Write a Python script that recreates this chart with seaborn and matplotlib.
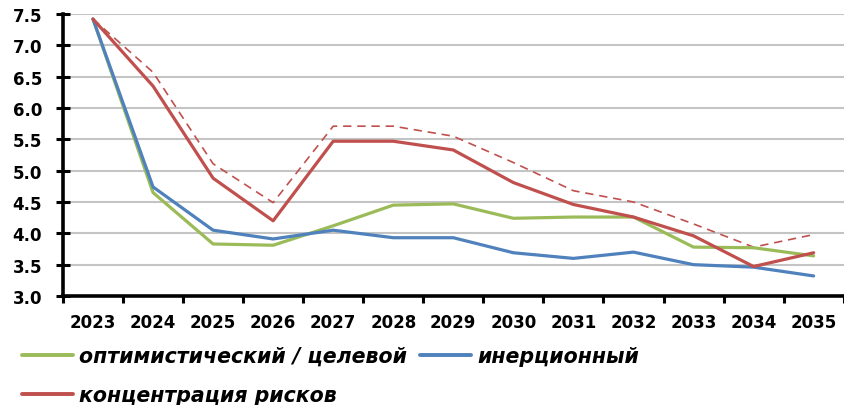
import matplotlib
matplotlib.use('Agg')
import matplotlib.pyplot as plt
from matplotlib.lines import Line2D
import seaborn as sns
import pandas as pd

years = [str(y) for y in range(2023, 2036)]

optimistic = [7.42, 4.65, 3.83, 3.81, 4.12, 4.45, 4.47, 4.24, 4.26, 4.26, 3.78, 3.77, 3.64]
inertial = [7.42, 4.74, 4.05, 3.91, 4.05, 3.93, 3.93, 3.69, 3.60, 3.70, 3.50, 3.46, 3.32]
risk = [7.42, 6.35, 4.88, 4.20, 5.47, 5.47, 5.33, 4.81, 4.46, 4.26, 3.96, 3.47, 3.69]
risk_upper = [7.42, 6.57, 5.11, 4.49, 5.71, 5.71, 5.55, 5.13, 4.68, 4.50, 4.15, 3.78, 3.98]

labels = ["оптимистический / целевой", "инерционный", "концентрация рисков"]
colors = ["#9BBB59", "#4F81BD", "#C0504D"]

sns.set_theme(style="white")
plt.rcParams['font.family'] = ['DejaVu Sans']
plt.rcParams['text.color'] = 'black'

df = pd.DataFrame({
    "x": list(range(len(years))),
    "opt": optimistic,
    "inr": inertial,
    "risk": risk,
    "upper": risk_upper,
})

fig = plt.figure(figsize=(8.44, 4.06), dpi=100)
ax = fig.add_axes([0.0746, 0.2685, 0.925, 0.6945])

ax.set_ylim(3.0, 7.5)
ax.set_xlim(-0.5, 12.5)
ax.set_yticks([3.0 + 0.5 * i for i in range(10)])
ax.yaxis.grid(True, color="#C4C4C4", linewidth=1.5)
ax.set_axisbelow(True)

# upper bound of the risk scenario (dashed, no legend entry)
sns.lineplot(data=df, x="x", y="upper", ax=ax, color=colors[2], linewidth=1.2,
             linestyle=(0, (5, 3.5)))
sns.lineplot(data=df, x="x", y="opt", ax=ax, color=colors[0], linewidth=2.3)
sns.lineplot(data=df, x="x", y="inr", ax=ax, color=colors[1], linewidth=2.3)
sns.lineplot(data=df, x="x", y="risk", ax=ax, color=colors[2], linewidth=2.3)

ax.set_xlabel("")
ax.set_ylabel("")
ax.set_xticks(range(len(years)))
ax.set_xticklabels(years)
ax.set_xticks([i - 0.5 for i in range(len(years) + 1)], minor=True)
ax.set_yticklabels([f"{v:.1f}" for v in ax.get_yticks()])

ax.tick_params(axis='x', which='major', length=0, pad=12, labelsize=12, labelcolor='black')
ax.tick_params(axis='x', which='minor', bottom=True, direction='out', length=5, width=2.2, color='black')
ax.tick_params(axis='y', left=True, direction='inout', length=10, width=2.2, color='black',
               pad=10, labelsize=12, labelcolor='black')
for lab in ax.get_xticklabels() + ax.get_yticklabels():
    lab.set_fontweight('bold')

for side in ['top', 'right']:
    ax.spines[side].set_visible(False)
for side in ['left', 'bottom']:
    ax.spines[side].set_color('black')
    ax.spines[side].set_linewidth(2.6)

handles = [Line2D([0], [0], color=colors[0], lw=2.8),
           Line2D([0], [0], color=colors[2], lw=2.8),
           Line2D([0], [0], color=colors[1], lw=2.8)]
leg_labels = [labels[0], labels[2], labels[1]]
fig.legend(handles, leg_labels, loc='upper left', bbox_to_anchor=(0.026, 0.145),
           ncol=2, frameon=False, borderpad=0, borderaxespad=0,
           handlelength=2.5, handletextpad=0.3, columnspacing=0.6, labelspacing=0.92,
           labelcolor='black',
           prop={'weight': 'bold', 'style': 'italic', 'size': 14.8})

fig.savefig("out.png", dpi=100)
